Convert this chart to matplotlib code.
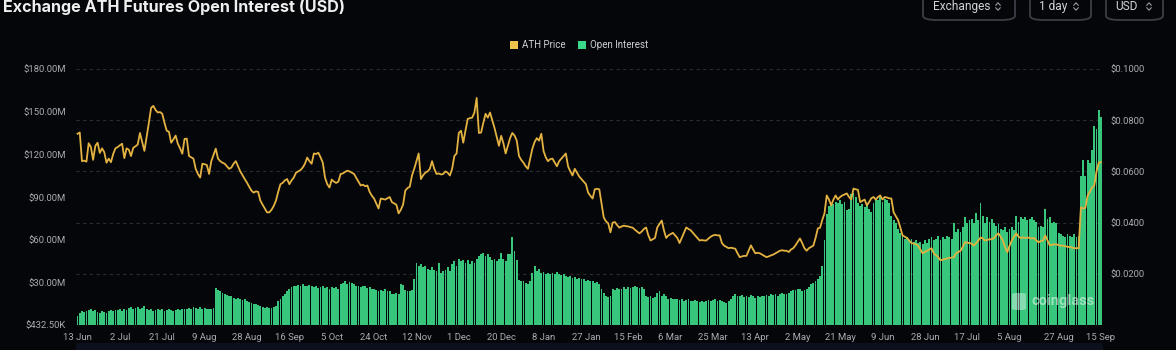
import numpy as np
import pandas as pd
import matplotlib
matplotlib.use("Agg")
import matplotlib.pyplot as plt
from matplotlib.patches import FancyBboxPatch, Rectangle
from matplotlib.lines import Line2D

# ---------------- data ----------------
START_DATE = "2024-06-13"
END_DATE = "2025-09-15"

# Daily aggregated open interest, millions of USD
OPEN_INTEREST_M = [
    # Jun 2024
    7, 9, 10, 9.5, 10.5, 11, 12, 10, 11, 9.5, 9, 10, 9.5, 8.5, 10.5, 11, 10.5, 11,
    # Jul
    11, 11.5, 10.5, 12, 11, 12.5, 13, 12, 12.5, 13, 12, 12.5, 13.5, 12,
    11, 11.5, 10.5, 11, 12, 11, 11.5, 10.5, 11, 11.5, 11, 10.5, 11, 12, 11, 11.5, 12,
    # Aug
    12, 12.5, 12, 13, 12.5, 12, 13, 12, 12.5, 12, 11.5, 12, 12.5,
    26.7, 25, 24, 23, 22.5, 21.5, 21, 20.5, 19.5, 19, 19.5, 18.5, 18, 18.5, 17.5, 16.5, 16, 15.5,
    # Sep
    15, 14.5, 13.5, 13, 12.5, 13, 12.5, 12.5, 13, 14,
    17, 19, 21, 22.5, 24, 25.5, 27, 28, 27.5, 28.5, 28, 29, 28, 27.5, 28.5, 28, 27, 27.5, 26.5, 27,
    # Oct
    27.5, 26.5, 27, 26, 27, 26.5, 27, 26, 29, 30, 31, 29.5, 30.5, 30, 29,
    28, 27.5, 27, 28, 27.5, 26.5, 27, 26, 25.5, 25, 24.5, 25, 24, 25.5, 24.5, 24,
    # Nov
    22.5, 22, 23, 22.5, 29, 28.5, 25, 24.5, 24, 25,
    33, 44, 42, 43, 41, 42, 40, 39, 41, 39,
    38, 44, 37, 38, 39, 41, 38, 43, 45.5, 42,
    # Dec
    47, 45, 46, 44, 46, 43, 45, 44, 47, 49,
    50, 51, 49, 50, 48, 46, 47, 45, 47, 51,
    47, 45, 50, 50, 62, 52, 46, 32, 31, 31.5, 30,
    # Jan 2025
    29.5, 31, 37, 42, 38, 40, 37, 37.5, 36.5, 37,
    36, 37, 36.5, 37.5, 36, 35.5, 36, 35, 34, 34.5,
    33.5, 34, 33, 33.5, 32.5, 33, 31.5, 32, 31, 31.5, 30,
    # Feb
    30.5, 29, 26, 23, 21, 20, 21, 26, 25, 26.5,
    25.5, 26, 27, 26, 27, 26.5, 27, 27.5, 27, 26.5,
    27, 26, 21, 20, 20.5, 19.5, 20, 23,
    # Mar
    24, 21, 22, 21, 19, 19.5, 19, 18.5, 19, 18,
    18.5, 17.5, 18, 19, 17, 17.5, 18, 17, 16.5, 17.5,
    16.5, 17, 18, 17.5, 18, 18.5, 17.5, 18, 17, 16.5, 16,
    # Apr
    17, 19, 21, 22, 21, 20.5, 21.5, 20, 21, 20,
    21.5, 20.5, 19.5, 21, 20, 20.5, 21, 21.5, 20.5, 22,
    21.5, 22, 21, 22.5, 23, 22, 22.5, 23, 24, 25,
    # May
    25, 26, 25.5, 24.5, 25, 26, 27, 29, 30, 31,
    33, 35, 42, 60, 78, 84, 86, 85, 87, 86,
    88, 85, 87, 81, 82, 92, 93, 90, 86, 84, 85,
    # Jun
    83, 86, 82, 80, 86, 89, 88, 90, 87, 89,
    88, 86, 77, 74, 72, 68, 65, 63, 61, 62,
    60, 61, 59, 60, 58, 59, 57, 60, 58, 61,
    # Jul
    62, 60, 61, 63, 60, 62, 61, 63, 62, 61,
    72, 66, 68, 66, 69, 76, 72, 74, 75, 72,
    79, 74, 86, 77, 72, 76, 73, 75, 72, 70, 71,
    # Aug
    68, 67, 69, 66, 68, 69, 67, 77, 73, 76,
    75, 76, 74, 75, 76, 74, 73, 69, 70, 69,
    82, 75, 76, 72, 73, 72, 65, 64, 63, 62, 64,
    # Sep
    63, 62, 64, 62, 63, 105, 116, 105, 116, 114, 123, 140, 138, 151, 146,
]

# Daily ATH price, USD
ATH_PRICE = [
    # Jun 2024
    0.0747, 0.0752, 0.0640, 0.0642, 0.0638, 0.0710, 0.0695, 0.0645, 0.0700, 0.0712,
    0.0672, 0.0690, 0.0675, 0.0634, 0.0650, 0.0636, 0.0668, 0.0690,
    # Jul
    0.0695, 0.0702, 0.0708, 0.0652, 0.0690, 0.0685, 0.0660, 0.0692, 0.0698, 0.0705,
    0.0750, 0.0715, 0.0680, 0.0735, 0.0790, 0.0848, 0.0856, 0.0840, 0.0830, 0.0832,
    0.0825, 0.0790, 0.0759, 0.0755, 0.0712, 0.0725, 0.0740, 0.0708, 0.0690, 0.0669, 0.0727,
    # Aug
    0.0728, 0.0660, 0.0655, 0.0650, 0.0610, 0.0590, 0.0576, 0.0630, 0.0628, 0.0625,
    0.0590, 0.0640, 0.0665, 0.0689, 0.0650, 0.0640, 0.0634, 0.0630, 0.0620, 0.0610,
    0.0615, 0.0630, 0.0640, 0.0620, 0.0600, 0.0585, 0.0570, 0.0556, 0.0540, 0.0525, 0.0517,
    # Sep
    0.0522, 0.0520, 0.0486, 0.0470, 0.0455, 0.0440, 0.0440, 0.0450, 0.0465, 0.0486,
    0.0520, 0.0550, 0.0555, 0.0565, 0.0570, 0.0550, 0.0565, 0.0576, 0.0595, 0.0600,
    0.0605, 0.0615, 0.0630, 0.0654, 0.0640, 0.0630, 0.0670, 0.0668, 0.0673, 0.0655,
    # Oct
    0.0634, 0.0576, 0.0550, 0.0537, 0.0568, 0.0560, 0.0555, 0.0560, 0.0590, 0.0592,
    0.0598, 0.0603, 0.0600, 0.0595, 0.0590, 0.0575, 0.0560, 0.0545, 0.0548, 0.0542,
    0.0545, 0.0520, 0.0505, 0.0494, 0.0475, 0.0455, 0.0494, 0.0492, 0.0490, 0.0495, 0.0500,
    # Nov
    0.0480, 0.0475, 0.0470, 0.0436, 0.0450, 0.0470, 0.0525, 0.0535, 0.0540, 0.0584,
    0.0610, 0.0640, 0.0670, 0.0570, 0.0585, 0.0595, 0.0600, 0.0610, 0.0640, 0.0610,
    0.0590, 0.0592, 0.0588, 0.0590, 0.0600, 0.0595, 0.0584, 0.0610, 0.0660, 0.0670,
    # Dec
    0.0750, 0.0759, 0.0712, 0.0760, 0.0805, 0.0808, 0.0810, 0.0830, 0.0887, 0.0750,
    0.0752, 0.0790, 0.0825, 0.0810, 0.0830, 0.0800, 0.0770, 0.0735, 0.0700, 0.0739,
    0.0710, 0.0670, 0.0700, 0.0730, 0.0750, 0.0740, 0.0720, 0.0660, 0.0645, 0.0634, 0.0620,
    # Jan 2025
    0.0610, 0.0650, 0.0689, 0.0715, 0.0730, 0.0720, 0.0747, 0.0680, 0.0655, 0.0640,
    0.0648, 0.0650, 0.0635, 0.0620, 0.0640, 0.0650, 0.0660, 0.0670, 0.0620, 0.0600,
    0.0584, 0.0610, 0.0595, 0.0580, 0.0570, 0.0560, 0.0550, 0.0517, 0.0505, 0.0494, 0.0530,
    # Feb
    0.0532, 0.0530, 0.0474, 0.0420, 0.0405, 0.0397, 0.0362, 0.0400, 0.0402, 0.0390,
    0.0380, 0.0385, 0.0388, 0.0386, 0.0385, 0.0382, 0.0380, 0.0372, 0.0365, 0.0358,
    0.0365, 0.0375, 0.0381, 0.0350, 0.0330, 0.0335, 0.0340, 0.0381,
    # Mar
    0.0395, 0.0408, 0.0370, 0.0340, 0.0350, 0.0355, 0.0360, 0.0350, 0.0340, 0.0320,
    0.0340, 0.0360, 0.0381, 0.0375, 0.0370, 0.0360, 0.0350, 0.0340, 0.0330, 0.0332,
    0.0330, 0.0330, 0.0338, 0.0345, 0.0350, 0.0352, 0.0350, 0.0350, 0.0320, 0.0310, 0.0305,
    # Apr
    0.0300, 0.0302, 0.0300, 0.0298, 0.0280, 0.0265, 0.0268, 0.0270, 0.0270, 0.0290,
    0.0311, 0.0295, 0.0280, 0.0282, 0.0280, 0.0275, 0.0270, 0.0265, 0.0268, 0.0272,
    0.0275, 0.0280, 0.0285, 0.0290, 0.0292, 0.0290, 0.0290, 0.0285, 0.0295, 0.0300,
    # May
    0.0311, 0.0325, 0.0338, 0.0320, 0.0300, 0.0290, 0.0300, 0.0305, 0.0310, 0.0340,
    0.0377, 0.0380, 0.0410, 0.0436, 0.0506, 0.0490, 0.0467, 0.0490, 0.0506, 0.0490,
    0.0500, 0.0506, 0.0510, 0.0514, 0.0500, 0.0490, 0.0533, 0.0530, 0.0528, 0.0480, 0.0485,
    # Jun
    0.0490, 0.0467, 0.0480, 0.0495, 0.0500, 0.0490, 0.0500, 0.0506, 0.0490, 0.0500,
    0.0498, 0.0495, 0.0494, 0.0440, 0.0425, 0.0410, 0.0381, 0.0350, 0.0345, 0.0340,
    0.0330, 0.0320, 0.0318, 0.0315, 0.0310, 0.0295, 0.0280, 0.0285, 0.0290, 0.0295,
    # Jul
    0.0300, 0.0280, 0.0272, 0.0265, 0.0253, 0.0255, 0.0258, 0.0260, 0.0262, 0.0263,
    0.0265, 0.0280, 0.0285, 0.0290, 0.0305, 0.0323, 0.0322, 0.0320, 0.0318, 0.0310,
    0.0320, 0.0330, 0.0342, 0.0338, 0.0330, 0.0332, 0.0335, 0.0335, 0.0340, 0.0350, 0.0358,
    # Aug
    0.0345, 0.0330, 0.0305, 0.0284, 0.0310, 0.0330, 0.0345, 0.0358, 0.0345, 0.0340,
    0.0342, 0.0340, 0.0342, 0.0340, 0.0338, 0.0340, 0.0330, 0.0323, 0.0328, 0.0330,
    0.0350, 0.0330, 0.0311, 0.0313, 0.0315, 0.0315, 0.0312, 0.0310, 0.0310, 0.0308, 0.0305,
    # Sep
    0.0305, 0.0302, 0.0300, 0.0300, 0.0300, 0.0460, 0.0455, 0.0458, 0.0505, 0.0520,
    0.0537, 0.0545, 0.0600, 0.0634, 0.0636,
]

TICK_DATES = [
    "2024-06-13", "2024-07-02", "2024-07-21", "2024-08-09", "2024-08-28", "2024-09-16",
    "2024-10-05", "2024-10-24", "2024-11-12", "2024-12-01", "2024-12-20", "2025-01-08",
    "2025-01-27", "2025-02-15", "2025-03-06", "2025-03-25", "2025-04-13", "2025-05-02",
    "2025-05-21", "2025-06-09", "2025-06-28", "2025-07-17", "2025-08-05", "2025-08-27",
    "2025-09-15",
]

OI_TICKS_M = [0.4325, 30, 60, 90, 120, 150, 180]
OI_TICK_LABELS = ["$432.50K", "$30.00M", "$60.00M", "$90.00M", "$120.00M", "$150.00M", "$180.00M"]
PRICE_TICKS = [0.02, 0.04, 0.06, 0.08, 0.10]
PRICE_TICK_LABELS = ["$0.0200", "$0.0400", "$0.0600", "$0.0800", "$0.1000"]

# ---------------- style ----------------
BG = "#05060a"
GREEN = "#37c67c"
GOLD = "#e3b241"
GRID = "#2a2c31"
LABEL = "#a9abb0"
FONT = ["Roboto", "DejaVu Sans"]
plt.rcParams["font.family"] = FONT

W, H = 1176, 350
fig = plt.figure(figsize=(W / 100, H / 100), dpi=100, facecolor=BG)


def fx(xp):
    return xp / W


def fy(yp):
    return 1 - yp / H


dates = pd.date_range(START_DATE, END_DATE, freq="D")
x = np.arange(len(dates))
tick_pos = dates.get_indexer(pd.to_datetime(TICK_DATES))
tick_lab = [f"{d.day} {d.strftime('%b')}" for d in pd.to_datetime(TICK_DATES)]

left, right, top, bottom = 76.4, 1102.1, 69, 325
ax = fig.add_axes([fx(left), fy(bottom), (right - left) / W, (bottom - top) / H])
ax.set_facecolor(BG)

# dashed grid follows the price axis, behind the bars
for p in PRICE_TICKS:
    ax.plot([0, 1], [p / 0.1, p / 0.1], transform=ax.transAxes, color=GRID,
            lw=0.8, ls=(0, (3, 3)), zorder=0)

ax.bar(x, OPEN_INTEREST_M, width=0.82, color=GREEN, linewidth=0, zorder=2)
ax.set_xlim(-0.5, len(x) - 0.5)
ax.set_ylim(OI_TICKS_M[0], OI_TICKS_M[-1])
ax.set_yticks(OI_TICKS_M, OI_TICK_LABELS)
ax.set_xticks(tick_pos, tick_lab)
ax.tick_params(axis="y", length=0, pad=7.5, labelsize=6.8, labelcolor=LABEL)
ax.tick_params(axis="x", length=0, pad=5.5, labelsize=6.8, labelcolor=LABEL)
for s in ax.spines.values():
    s.set_visible(False)

ax2 = ax.twinx()
ax2.plot(x, ATH_PRICE, color=GOLD, lw=1.3, solid_joinstyle="round", zorder=3)
ax2.set_ylim(0, 0.1)
ax2.set_yticks(PRICE_TICKS, PRICE_TICK_LABELS)
ax2.tick_params(axis="y", length=0, pad=6, labelsize=6.8, labelcolor=LABEL)
for s in ax2.spines.values():
    s.set_visible(False)

# title
fig.text(fx(3), fy(7), "Exchange ATH Futures Open Interest (USD)", fontsize=11.6,
         weight="bold", color="#eeeeee", va="center", ha="left", family=["Inter", "DejaVu Sans"])

# selector buttons
def chevrons(xc, yc):
    for dy, sgn in ((-2.5, 1), (2.5, -1)):
        xs = [fx(xc - 2.2), fx(xc), fx(xc + 2.2)]
        ys = [fy(yc + dy + sgn * 1.2), fy(yc + dy - sgn * 1.2), fy(yc + dy + sgn * 1.2)]
        fig.lines.append(Line2D(xs, ys, transform=fig.transFigure, color="#9a9ca2", lw=0.8))


for (x0, x1, label, tx, cx) in [(923, 1015, "Exchanges", 933, 998),
                                (1030, 1091, "1 day", 1039, 1076),
                                (1106, 1163, "USD", 1115, 1149)]:
    box = FancyBboxPatch((fx(x0), fy(20)), fx(x1 - x0), (30 / H),
                         boxstyle="round,pad=0,rounding_size=0.012",
                         transform=fig.transFigure, facecolor=BG, edgecolor="#3b3e45", lw=1.3)
    fig.patches.append(box)
    fig.text(fx(tx), fy(6.5), label, fontsize=8.6, color="#d2d3d6", va="center", ha="left")
    chevrons(cx, 6.5)

# legend
fig.patches.append(Rectangle((fx(510), fy(49)), 7.5 / W, 7.5 / H, transform=fig.transFigure,
                             facecolor="#f0c14b", edgecolor="none"))
fig.text(fx(522), fy(45), "ATH Price", fontsize=7, color="#cfd0d3", va="center", ha="left")
fig.patches.append(Rectangle((fx(578), fy(49)), 7.5 / W, 7.5 / H, transform=fig.transFigure,
                             facecolor="#3ad98a", edgecolor="none"))
fig.text(fx(590), fy(45), "Open Interest", fontsize=7, color="#cfd0d3", va="center", ha="left")

# watermark
fig.patches.append(FancyBboxPatch((fx(1012), fy(310)), 14 / W, 17 / H,
                                  boxstyle="round,pad=0,rounding_size=0.004",
                                  transform=fig.transFigure, facecolor="white",
                                  edgecolor="none", alpha=0.4, zorder=5))
fig.text(fx(1031), fy(301), "coinglass", fontsize=10.5, weight="bold", color="white",
         alpha=0.5, va="center", ha="left", zorder=5)

# slider strip under the time axis
fig.patches.append(Rectangle((fx(76), fy(350)), (1103 - 76) / W, 7 / H,
                             transform=fig.transFigure, facecolor="#0b101c", edgecolor="none"))

fig.savefig("out.png", dpi=100, facecolor=BG)
